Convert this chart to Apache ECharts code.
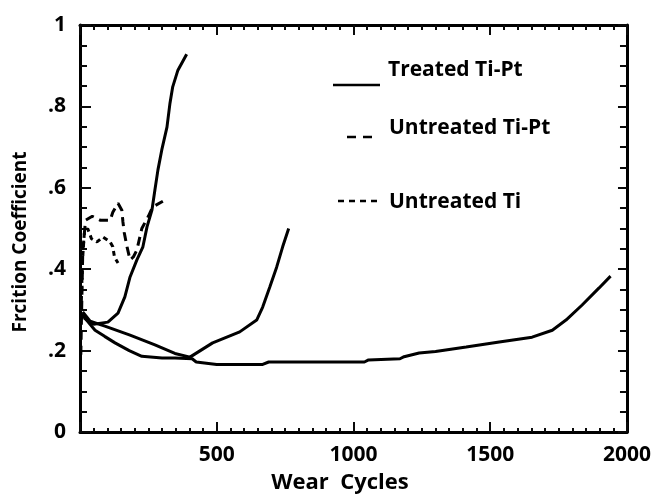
<!DOCTYPE html>
<html><head><meta charset="utf-8">
<script src="https://cdn.jsdelivr.net/npm/echarts@6/dist/echarts.min.js"></script>
<style>html,body{margin:0;padding:0;background:#fff}#c{width:654px;height:495px}</style>
</head><body><div id="c"></div>
<script>
// Treated Ti-Pt, test 1 (long run)
const treatedLong = [[5,0.29],[30,0.27],[55,0.25],[90,0.235],[128,0.219],[180,0.2],[226,0.186],[300,0.182],[347,0.182],[410,0.18],[425,0.172],[500,0.166],[668,0.166],[690,0.172],[1040,0.172],[1055,0.177],[1170,0.18],[1185,0.185],[1240,0.194],[1300,0.198],[1412,0.209],[1533,0.221],[1653,0.233],[1727,0.25],[1777,0.275],[1836,0.312],[1898,0.354],[1940,0.383]];
// Treated Ti-Pt, test 2
const treatedMid = [[10,0.295],[37,0.272],[91,0.26],[183,0.238],[274,0.214],[347,0.193],[402,0.184],[485,0.219],[584,0.246],[646,0.275],[668,0.307],[694,0.356],[719,0.405],[741,0.455],[763,0.5]];
// Treated Ti-Pt, test 3
const treatedShort = [[15,0.28],[50,0.265],[102,0.27],[139,0.292],[164,0.332],[183,0.381],[208,0.423],[230,0.455],[245,0.504],[263,0.545],[274,0.595],[285,0.644],[299,0.693],[318,0.749],[329,0.808],[339,0.848],[358,0.889],[390,0.928]];
// Untreated Ti-Pt
const untreatedTiPt = [[3,0.19],[6,0.3],[10,0.44],[20,0.52],[45,0.53],[75,0.52],[110,0.52],[120,0.54],[139,0.562],[153,0.545],[157,0.516],[162,0.489],[172,0.455],[183,0.423],[195,0.43],[208,0.447],[226,0.5],[250,0.53],[266,0.553],[303,0.567]];
// Untreated Ti
const untreatedTi = [[4,0.3],[9,0.42],[16,0.49],[28,0.5],[42,0.475],[62,0.467],[84,0.479],[110,0.467],[120,0.455],[126,0.43],[139,0.415]];

const xTicks = [0,500,1000,1500,2000];
const yTicks = [0,0.2,0.4,0.6,0.8,1];

const FONT = '"Open Sans", sans-serif';
const TICK = '#0a0a0a';
const mkLine = () => ({show:true, onZero:false, lineStyle:{color:'#000', width:3}});
const mkTick = (len) => ({show:true, inside:true, length:len, lineStyle:{color:TICK, width:2}});
const mkMinor = (n, len) => ({show:true, splitNumber:n, length:len, lineStyle:{color:TICK, width:2}});
const lineS = (data, type) => ({type:'line', data, showSymbol:false, symbol:'none', silent:true, lineStyle:{color:'#000', width:3, type}});
const option = {
  animation:false, backgroundColor:'#fff',
  grid:{left:80, right:26, top:25, bottom:63},
  xAxis:[
    {type:'value', min:0, max:2000, interval:500, position:'bottom', axisLine:mkLine(), axisTick:mkTick(10), minorTick:mkMinor(10,4), splitLine:{show:false},
     axisLabel:{color:'#000', fontFamily:FONT, fontWeight:'bold', fontSize:21, margin:13, formatter:v=> v===0 ? '' : String(v)}},
    {type:'value', min:0, max:2000, interval:500, position:'top', axisLine:mkLine(), axisTick:mkTick(10), minorTick:mkMinor(10,5), splitLine:{show:false}, axisLabel:{show:false}}],
  yAxis:[
    {type:'value', min:0, max:1, interval:0.2, position:'left', axisLine:mkLine(), axisTick:mkTick(11), minorTick:mkMinor(4,7), splitLine:{show:false},
     axisLabel:{color:'#000', fontFamily:FONT, fontWeight:'bold', fontSize:21, margin:14, formatter:v=> v===0 ? '0' : (v===1 ? '1' : '.' + Math.round(v*10))}},
    {type:'value', min:0, max:1, interval:0.2, position:'right', axisLine:mkLine(), axisTick:mkTick(9), minorTick:mkMinor(4,7), splitLine:{show:false}, axisLabel:{show:false}}],
  series:[
    lineS(treatedLong,'solid'),
    lineS(treatedMid,'solid'),
    lineS(treatedShort,'solid'),
    lineS(untreatedTiPt,[9,6]),
    lineS(untreatedTi,[5,4])
  ],
  graphic:[
    {type:'text', x:21, y:242, rotation:Math.PI/2, style:{text:'Frcition Coefficient', fill:'#000', font:'bold 19px '+FONT, textAlign:'center', textVerticalAlign:'middle'}},
    {type:'text', x:340, y:483, style:{text:'Wear  Cycles', fill:'#000', font:'bold 22px '+FONT, textAlign:'center', textVerticalAlign:'middle'}},
    {type:'line', shape:{x1:333,y1:85,x2:380,y2:85}, style:{stroke:'#000', lineWidth:2.5}},
    {type:'text', x:388, y:70, style:{text:'Treated Ti-Pt', fill:'#000', font:'bold 21px '+FONT, textVerticalAlign:'middle'}},
    {type:'line', shape:{x1:347,y1:137,x2:379,y2:137}, style:{stroke:'#000', lineWidth:2.5, lineDash:[9,7]}},
    {type:'text', x:389, y:128, style:{text:'Untreated Ti-Pt', fill:'#000', font:'bold 21px '+FONT, textVerticalAlign:'middle'}},
    {type:'line', shape:{x1:338,y1:201,x2:379,y2:201}, style:{stroke:'#000', lineWidth:2.5, lineDash:[6,5]}},
    {type:'text', x:389, y:202, style:{text:'Untreated Ti', fill:'#000', font:'bold 21px '+FONT, textVerticalAlign:'middle'}}
  ]
};
echarts.init(document.getElementById('c')).setOption(option);
</script></body></html>
